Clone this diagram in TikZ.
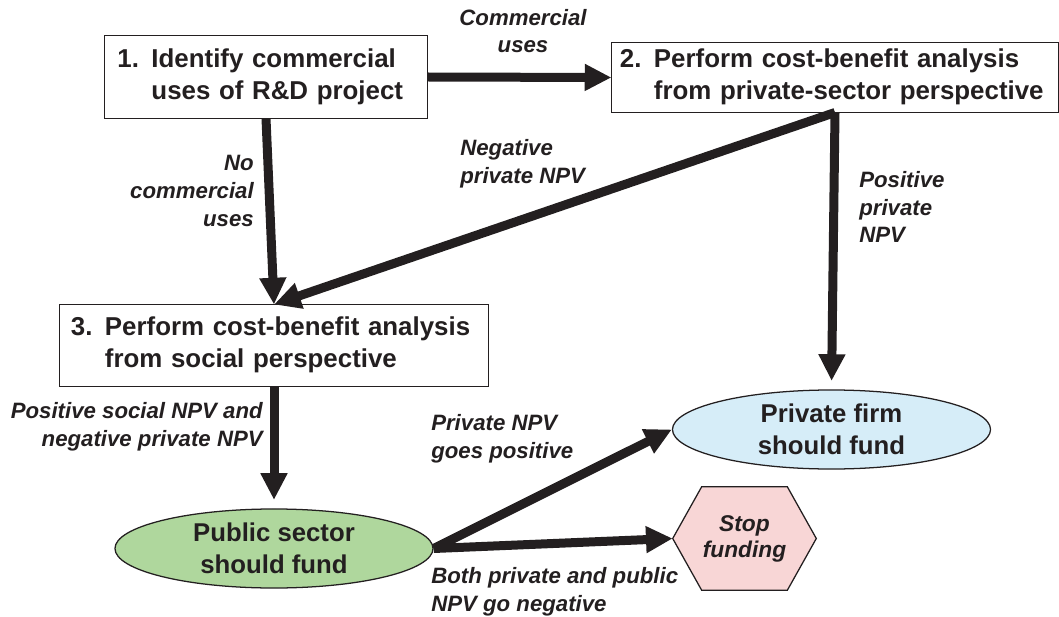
\documentclass[tikz,border=0pt]{standalone}
\usepackage{fontspec}
\setmainfont{Liberation Sans}
\usetikzlibrary{arrows.meta,calc,backgrounds,shapes.geometric}
\definecolor{ink}{HTML}{231F20}
\definecolor{publicfill}{HTML}{AFD79D}
\definecolor{privatefill}{HTML}{D6EDF8}
\definecolor{stopfill}{HTML}{F8D6D6}

% numbered step text with a hanging indent
\newcommand\stepitem[3]{\begin{tabular}{@{}p{0.85cm}@{}l@{}}#1&#2\\&#3\end{tabular}}

\begin{document}
\begin{tikzpicture}[x=0.025cm,y=-0.025cm,
  stepbox/.style={draw=ink, line width=0.7pt, text=ink, align=left,
    font=\bfseries\fontsize{18.4}{22.8}\selectfont, inner ysep=0pt},
  outcome/.style={ellipse, draw=ink, line width=0.9pt, inner sep=0pt,
    minimum width=7.95cm, minimum height=1.975cm, align=center, text=ink,
    font=\bfseries\fontsize{18.3}{22.8}\selectfont},
  note/.style={font=\bfseries\itshape\fontsize{15.8}{19.6}\selectfont,
    text=ink, inner sep=0pt},
  flow/.style={draw=ink, line width=6.4pt,
    -{Triangle[length=19pt,width=18pt]}},
]
\useasboundingbox (0,0) rectangle (1059,617);

% process steps
\node[stepbox, text width=7.425cm, inner xsep=0.325cm, minimum height=2.05cm]
  (b1) at (266,77) {\stepitem{1.}{Identify commercial}{uses of R\&D project}};
\node[stepbox, text width=10.75cm, inner xsep=0.2cm, minimum height=1.725cm]
  (b2) at (835,77.5) {\stepitem{2.}{Perform cost-benefit analysis}{from private-sector perspective}};
\node[stepbox, text width=10.15cm, inner xsep=0.275cm, minimum height=2.025cm]
  (b3) at (274,345.5) {\stepitem{3.}{Perform cost-benefit analysis}{from social perspective}};

% outcomes
\node[outcome, fill=publicfill] (pub) at (274,548.5) {Public sector\\should fund};
\node[outcome, fill=privatefill] (priv) at (831.5,429.5) {Private firm\\should fund};
\node[minimum width=3.575cm, minimum height=2.575cm, inner sep=0pt, align=center,
  text=ink, font=\bfseries\itshape\fontsize{16.2}{18.5}\selectfont]
  (stop) at (744.5,538.5) {Stop\\funding};
\begin{scope}[on background layer]
  \filldraw[fill=stopfill, draw=ink, line width=0.9pt]
    (stop.west) -- ($(stop.north west)+(29,0)$) -- ($(stop.north east)+(-29,0)$)
    -- (stop.east) -- ($(stop.south east)+(-29,0)$) -- ($(stop.south west)+(29,0)$)
    -- cycle;
\end{scope}

% connectors
\draw[flow] (b1.east) -- (b2.west);
\draw[flow] (b1.south) -- (b3.north);
\draw[flow] (b2.south) -- (b3.north);
\draw[flow, shorten >=6pt] (b2.south) -- (priv.north);
\draw[flow, shorten >=6pt] (b3.south) -- (pub.north);
\draw[flow] (pub.east) -- (priv.west);
\draw[flow] (pub.east) -- (stop.west);

% connector labels
\node[note, align=center] (lcomm) at (523,31) {Commercial\\uses};
\node[note, align=right, anchor=east] (lnone) at (254,191) {No\\commercial\\uses};
\node[note, align=left, anchor=west] (lneg) at (460,164) {Negative\\private NPV};
\node[note, align=left, anchor=west] (lpos) at (859,207) {Positive\\private\\NPV};
\node[note, align=right, anchor=east] (lsoc) at (263,427) {Positive social NPV and\\negative private NPV};
\node[note, align=left, anchor=west] (lgo) at (431,439) {Private NPV\\goes positive};
\node[note, align=left, anchor=west] (lboth) at (431,592) {Both private and public\\NPV go negative};
\end{tikzpicture}
\end{document}
